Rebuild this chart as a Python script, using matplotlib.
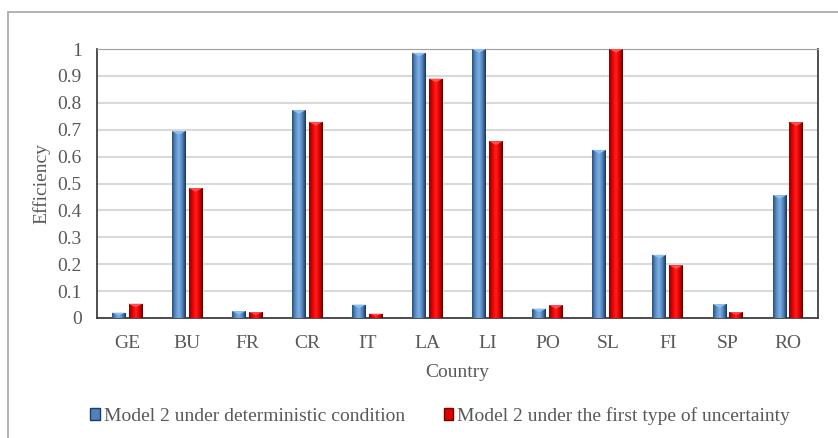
import matplotlib.pyplot as plt
import numpy as np
from matplotlib.patches import Rectangle
from matplotlib.colors import LinearSegmentedColormap

countries = ["GE", "BU", "FR", "CR", "IT", "LA", "LI", "PO", "SL", "FI", "SP", "RO"]
deterministic = [0.020, 0.695, 0.026, 0.773, 0.050, 0.986, 1.000, 0.035, 0.625, 0.235, 0.052, 0.457]
uncertainty = [0.053, 0.483, 0.022, 0.729, 0.016, 0.890, 0.657, 0.048, 1.000, 0.196, 0.022, 0.728]

plt.rcParams['font.family'] = ['Liberation Serif', 'DejaVu Serif']
txt = '#595959'

blue_cmap = LinearSegmentedColormap.from_list('b', ['#2a4f7d', '#5a8fc8', '#7fb0e0', '#4f81bd', '#1a3355'])
red_cmap = LinearSegmentedColormap.from_list('r', ['#8a0000', '#e80000', '#ff2020', '#e00000', '#5c0000'])

fig = plt.figure(figsize=(8.38, 4.38), dpi=100)
W, H = 838, 438
ax = fig.add_axes([97 / W, 1 - 318 / H, 721 / W, 269 / H])

# outer chart frame
fig.patches.append(Rectangle((8 / W, -0.1), 1.2, 1 - 12 / H + 0.1, transform=fig.transFigure,
                             fill=False, edgecolor='#a6a6a6', lw=1.2))

x = np.arange(len(countries))
bw = 0.23
gap = 0.05
grad = np.linspace(0, 1, 64).reshape(1, -1)

def shaded_bars(xs, vals, cmap, cap):
    bars = ax.bar(xs, vals, bw, color='none', edgecolor='none', zorder=3)
    for b in bars:
        x0, w, h = b.get_x(), b.get_width(), b.get_height()
        im = ax.imshow(grad, cmap=cmap, aspect='auto', extent=[x0, x0 + w, 0, h], zorder=3)
        im.set_clip_path(b)
        # small pyramid cap at top
        capd = min(0.014, h * 0.5)
        ax.fill([x0, x0 + w / 2, x0 + w], [h, h - capd, h], color=cap, zorder=4, lw=0)
    return bars

shaded_bars(x - bw / 2 - gap / 2, deterministic, blue_cmap, '#8ec0ef')
shaded_bars(x + bw / 2 + gap / 2, uncertainty, red_cmap, '#ff5050')

ax.set_xlim(-0.5, len(countries) - 0.5)
ax.set_ylim(0, 1)
ax.set_yticks(np.arange(0, 1.01, 0.1))
ax.set_yticklabels(['0', '0.1', '0.2', '0.3', '0.4', '0.5', '0.6', '0.7', '0.8', '0.9', '1'])
ax.set_xticks(x)
ax.set_xticklabels(countries)
ax.tick_params(axis='both', length=0, labelsize=14, colors=txt)
ax.tick_params(axis='x', pad=12)
ax.tick_params(axis='y', pad=11)
ax.grid(axis='y', color='#d9d9d9', lw=1.5, zorder=0)
ax.set_axisbelow(True)
for s in ['left', 'bottom', 'right']:
    ax.spines[s].set_color('#404040')
    ax.spines[s].set_linewidth(1.3)
ax.spines['top'].set_color('#a0a0a0')

ax.set_ylabel('Efficiency', fontsize=14, color=txt, labelpad=5)
ax.set_xlabel('Country', fontsize=14, color=txt, labelpad=9)

handles = [Rectangle((0, 0), 1, 1, facecolor='#4f81bd', edgecolor='#1f3d63'),
           Rectangle((0, 0), 1, 1, facecolor='#e00000', edgecolor='#7a0000')]
fig.legend(handles, ['Model 2 under deterministic condition',
                     'Model 2 under the first type of uncertainty'],
           loc='center', bbox_to_anchor=(440 / W, 1 - 416 / H), ncol=2, frameon=False,
           fontsize=14, labelcolor=txt, handlelength=0.5, handleheight=0.5,
           handletextpad=0.2, columnspacing=2.0)

fig.savefig('out.png', dpi=100)
